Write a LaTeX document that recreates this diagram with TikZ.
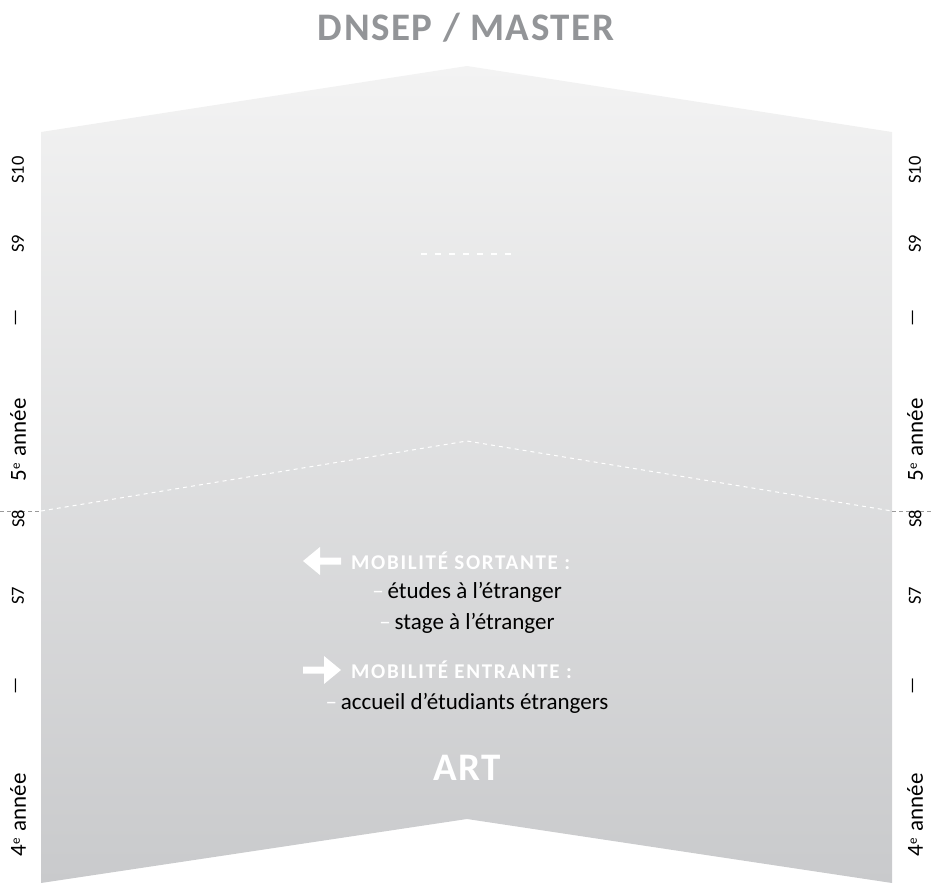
\documentclass[tikz,border=0pt]{standalone}
\usepackage{fontspec}
\setmainfont{Carlito}
\newfontfamily\headfont[LetterSpace=4]{Carlito}
\newfontfamily\mobfont[LetterSpace=8]{Carlito}
\definecolor{titlegray}{HTML}{939598}
\definecolor{shtop}{HTML}{F3F3F3}
\definecolor{shbot}{HTML}{C9CACC}
\definecolor{sidegray}{HTML}{9A9A9A}
\tikzset{
  titletext/.style={font=\headfont\bfseries\fontsize{39}{39}\selectfont, inner sep=0pt},
  sidelabel/.style={rotate=90, inner sep=0pt, font=\fontsize{18.5}{18.5}\selectfont, text=black},
  yearlabel/.style={rotate=90, inner sep=0pt, font=\fontsize{23}{23}\selectfont, text=black},
  dashlabel/.style={rotate=90, inner sep=0pt, font=\fontsize{19}{19}\selectfont, text=black},
  mobhead/.style={font=\mobfont\bfseries\fontsize{21}{21}\selectfont, text=white, inner sep=0pt, anchor=west},
  bodytext/.style={font=\fontsize{23}{23}\selectfont, text=black, inner sep=0pt},
  whitedash/.style={draw=white, line width=1pt, dash pattern=on 4pt off 4pt},
  blockarrow/.style={fill=white, draw=none}
}
\newcommand{\wdash}{\textcolor{white}{–}\,}
\newcommand{\yr}[1]{#1\raisebox{6pt}{\fontsize{13}{13}\selectfont e}\hspace{7pt}année}
\begin{document}
\begin{tikzpicture}[x=1pt,y=-1pt]
\useasboundingbox (0,0) rectangle (932,883);
% main chevron band
\shade[top color=shtop, bottom color=shbot]
  (41,132) -- (467,66) -- (892,132) -- (892,883) -- (467,819) -- (41,883) -- cycle;
% title
\node[titletext, text=titlegray] (title) at (466,28) {DNSEP / MASTER};
% dashed separators
\coordinate (dl) at (41,511);
\coordinate (dp) at (467,441);
\coordinate (dr) at (892,511);
\coordinate (ol) at (0,511);
\coordinate (or) at (932,511);
\draw[whitedash] (dl) -- (dp) -- (dr);
\draw[draw=sidegray, line width=0.8pt, dash pattern=on 4pt off 3pt] (ol) -- (dl);
\draw[draw=sidegray, line width=0.8pt, dash pattern=on 4pt off 3pt] (dr) -- (or);
\coordinate (sl) at (421,254);
\coordinate (sr) at (514,254);
\draw[draw=white, line width=1.5pt, dash pattern=on 6pt off 8pt] (sl) -- (sr);
% side labels
\foreach \x/\s in {18/L,915/R}{
  \node[sidelabel] (s10\s) at (\x,170) {S10};
  \node[sidelabel] (s9\s) at (\x,244) {S9};
  \node[dashlabel] (d5\s) at (\x,318) {—};
  \node[yearlabel] (y5\s) at (\x,440) {\yr{5}};
  \node[sidelabel] (s8\s) at (\x,519) {S8};
  \node[sidelabel] (s7\s) at (\x,596) {S7};
  \node[dashlabel] (d4\s) at (\x,686) {—};
  \node[yearlabel] (y4\s) at (\x,815) {\yr{4}};
}
% mobility
\fill[blockarrow] (303,561) -- (320,547) -- (320,557.5) -- (341,557.5) -- (341,564.5) -- (320,564.5) -- (320,575) -- cycle;
\node[mobhead] (sort) at (351,561) {MOBILITÉ SORTANTE :};
\node[bodytext] (etu) at (467,592) {\wdash études à l’étranger};
\node[bodytext] (sta) at (467,623) {\wdash stage à l’étranger};
\fill[blockarrow] (341,670) -- (324,656) -- (324,666.5) -- (303,666.5) -- (303,673.5) -- (324,673.5) -- (324,684) -- cycle;
\node[mobhead] (entr) at (351,670) {MOBILITÉ ENTRANTE :};
\node[bodytext] (acc) at (467,703) {\wdash accueil d’étudiants étrangers};
% ART
\node[titletext, text=white] (art) at (467,768) {ART};
\end{tikzpicture}
\end{document}
